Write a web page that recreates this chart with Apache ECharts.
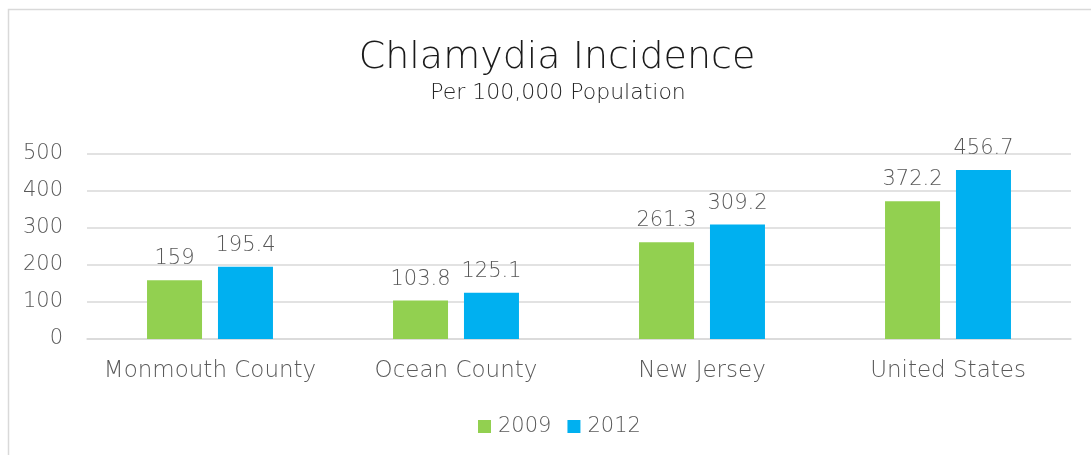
<!DOCTYPE html>
<html>
<head>
<meta charset="utf-8">
<script src="https://cdn.jsdelivr.net/npm/echarts@6/dist/echarts.min.js"></script>
<style>
html,body{margin:0;padding:0;background:#fff;}
#chart{width:1091px;height:455px;}
</style>
</head>
<body>
<div id="chart"></div>
<script>
const categories = ['Monmouth County', 'Ocean County', 'New Jersey', 'United States'];
const seriesNames = ['2009', '2012'];
const values2009 = [159, 103.8, 261.3, 372.2];
const values2012 = [195.4, 125.1, 309.2, 456.7];
const yTicks = [0, 100, 200, 300, 400, 500];

const FONT = 'DejaVu Sans';
const GRAY = '#595959';

const chart = echarts.init(document.getElementById('chart'));
const labelStyle = {
  show: true, position: 'top', distance: 11,
  color: GRAY, fontSize: 21, fontFamily: FONT, fontWeight: 200
};
chart.setOption({
  animation: false,
  backgroundColor: '#fff',
  graphic: [{
    type: 'rect', silent: true,
    shape: { x: 8.5, y: 9.5, width: 1300, height: 800 },
    style: { fill: 'none', stroke: '#d9d9d9', lineWidth: 1.5 }
  }],
  title: [{
    text: 'Chlamydia Incidence',
    left: 552, top: 34, textAlign: 'center',
    textStyle: { fontFamily: FONT, fontSize: 38, fontWeight: 200, color: '#1a1a1a' }
  }, {
    text: 'Per 100,000 Population',
    left: 553, top: 77, textAlign: 'center',
    textStyle: { fontFamily: FONT, fontSize: 22, fontWeight: 200, color: '#262626' }
  }],
  legend: {
    data: seriesNames,
    left: 473, top: 411,
    itemWidth: 13, itemHeight: 13, itemGap: 16,
    icon: 'rect',
    textStyle: { fontFamily: FONT, fontSize: 21, fontWeight: 200, color: GRAY, padding: [0, 0, 0, 2] }
  },
  grid: { left: 87, right: 20, top: 154, bottom: 116 },
  xAxis: {
    type: 'category', data: categories,
    axisLine: { show: true, lineStyle: { color: '#d9d9d9', width: 1.5 } },
    axisTick: { show: false },
    axisLabel: { interval: 0, color: GRAY, fontSize: 23, fontFamily: FONT, fontWeight: 200, margin: 21 }
  },
  yAxis: {
    type: 'value', min: yTicks[0], max: yTicks[yTicks.length - 1], interval: 100,
    axisLine: { show: false }, axisTick: { show: false },
    splitLine: { lineStyle: { color: '#d9d9d9', width: 1.5 } },
    axisLabel: { color: GRAY, fontSize: 21, fontFamily: FONT, fontWeight: 200, margin: 24 }
  },
  series: [{
    name: seriesNames[0], type: 'bar', data: values2009,
    barWidth: 55, barGap: '29%',
    itemStyle: { color: '#92D050' },
    label: labelStyle
  }, {
    name: seriesNames[1], type: 'bar', data: values2012,
    barWidth: 55,
    itemStyle: { color: '#00B0F0' },
    label: labelStyle
  }]
});
</script>
</body>
</html>
